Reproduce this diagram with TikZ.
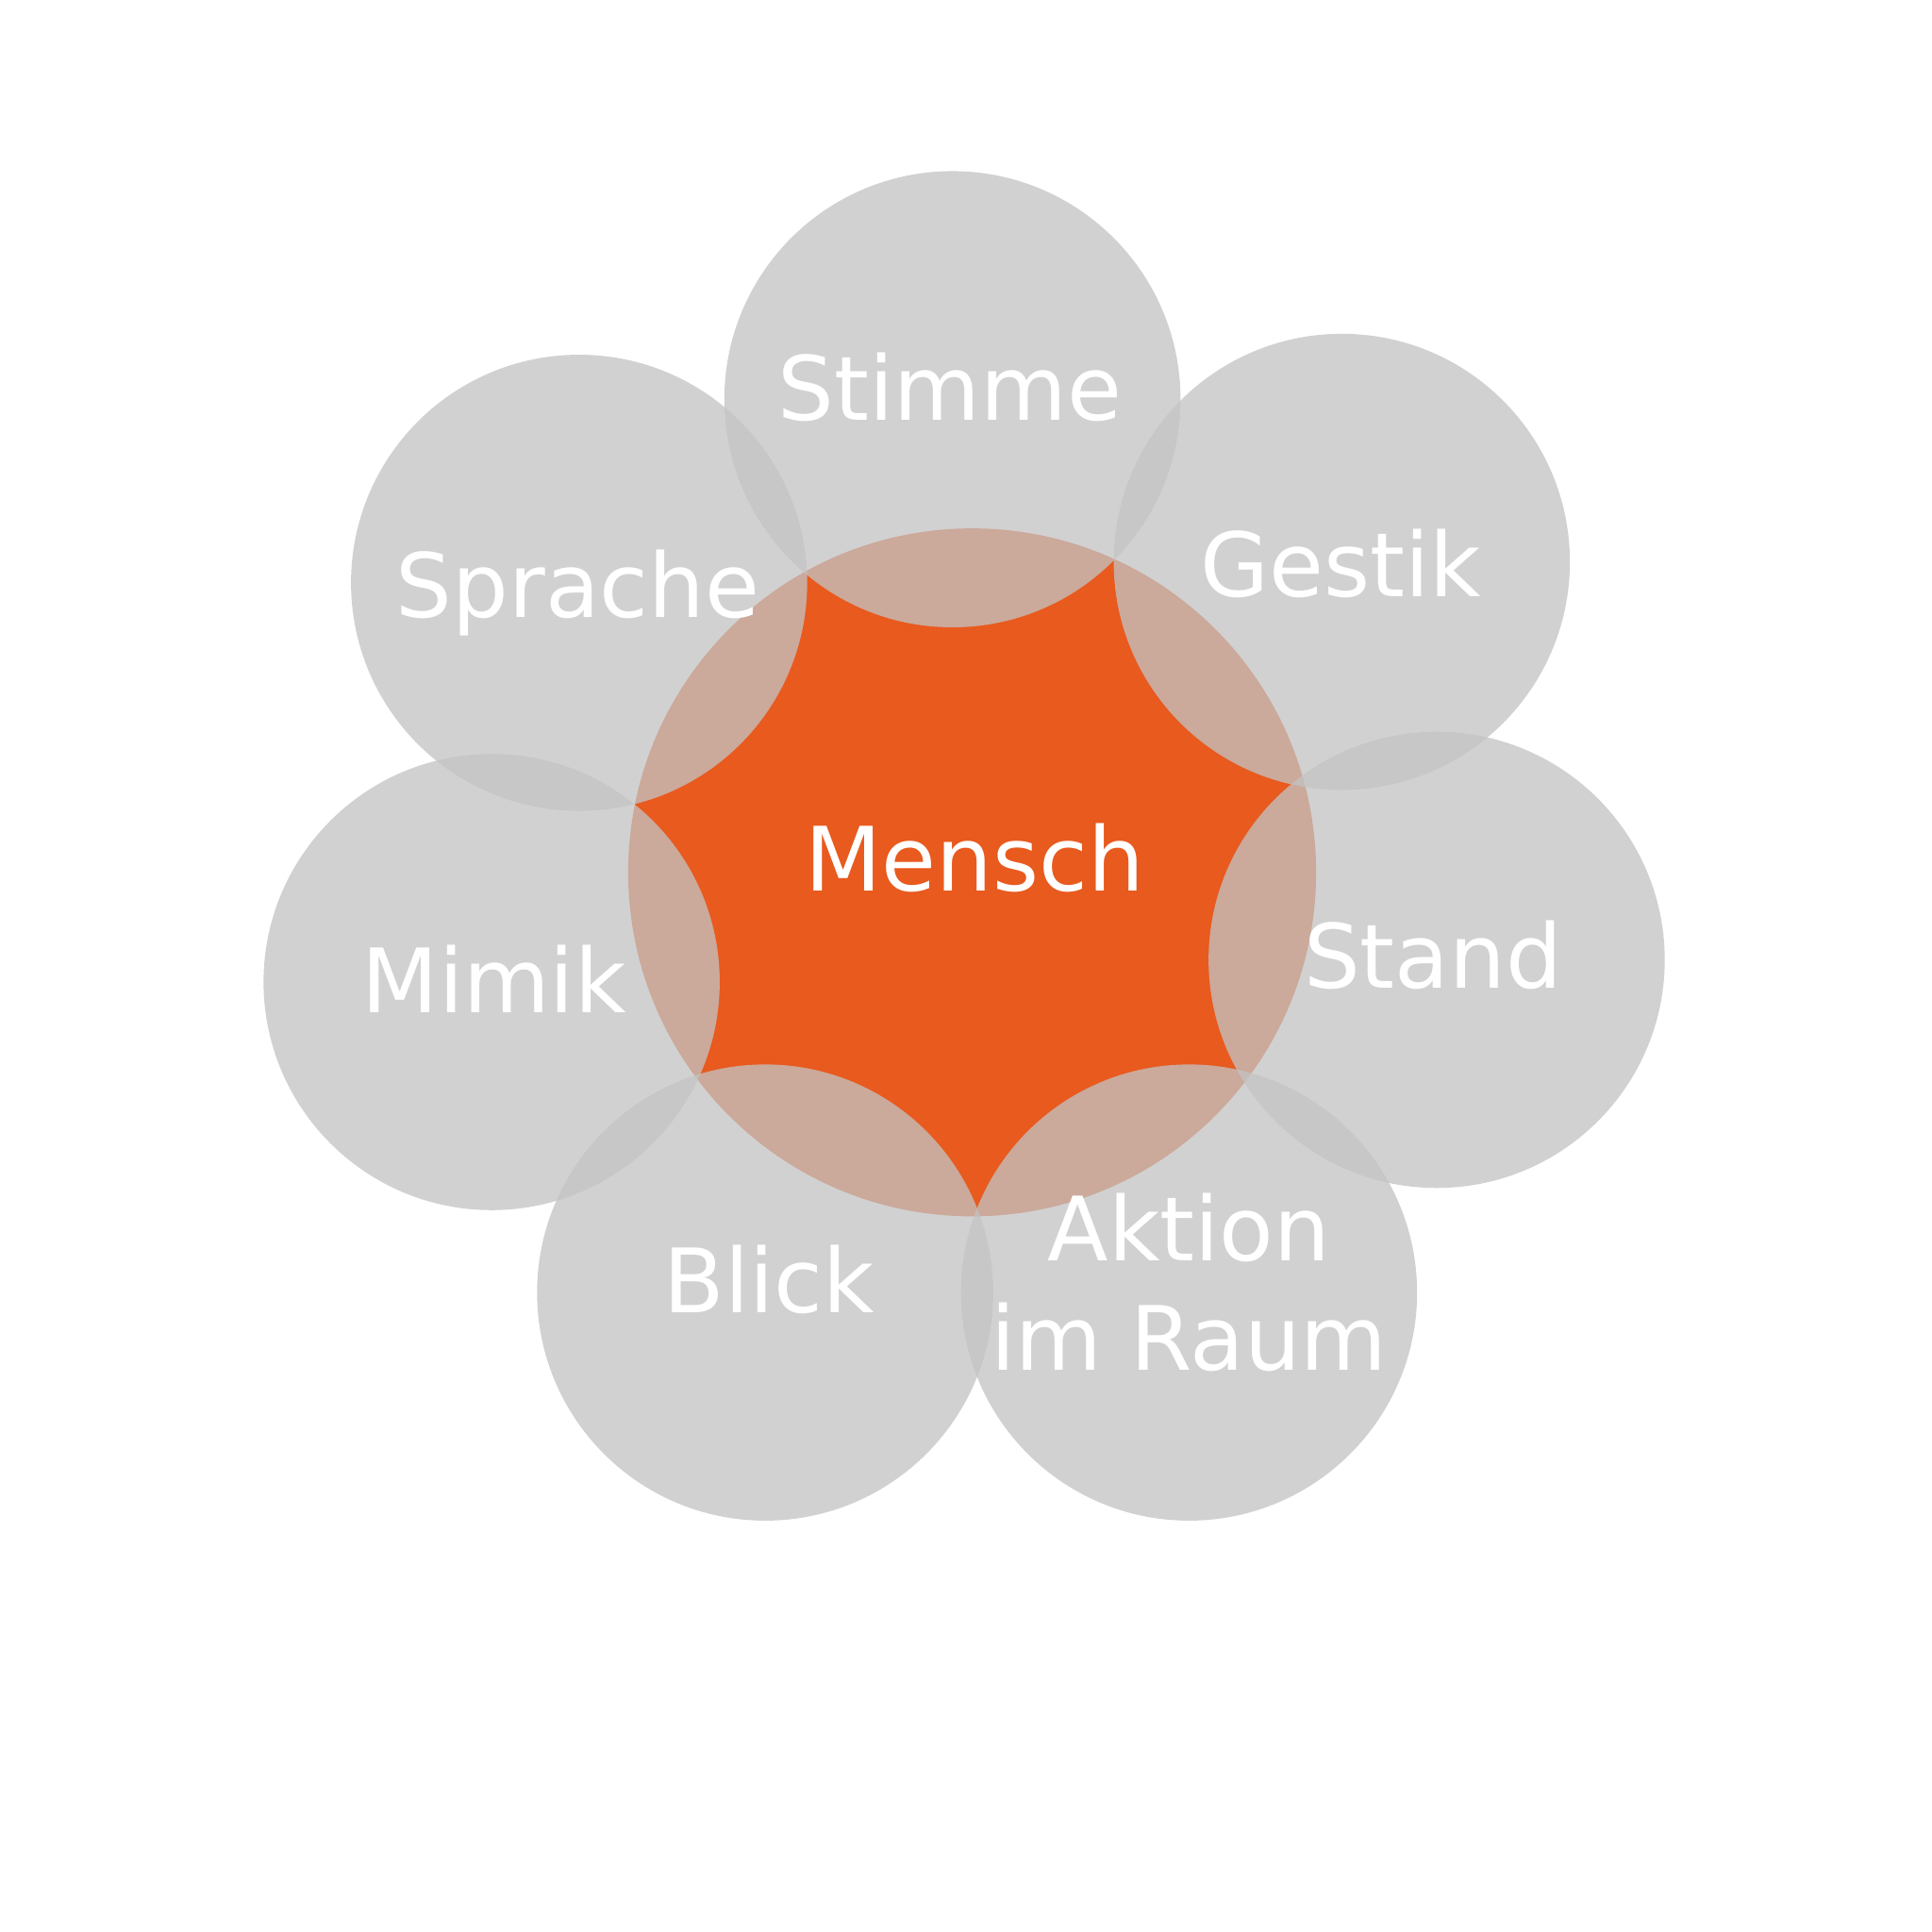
\documentclass[tikz,border=0pt]{standalone}
\usepackage{fontspec}
\setmainfont{DejaVu Sans}
\definecolor{petalgray}{RGB}{195,195,195}
\definecolor{coreorange}{RGB}{232,90,30}
\begin{document}
\begin{tikzpicture}[x=0.01cm, y=-0.01cm,
        petal/.style={fill=petalgray, fill opacity=0.76},
        word/.style={text=white, anchor=base, align=center,
                     font=\fontsize{20.5}{25.3}\selectfont}]
        \useasboundingbox (0,0) rectangle (1568,1568);
        % The core
        \fill[coreorange] (789,708) coordinate (core) circle[radius=2.79cm];

        % The petals
        \foreach \name/\x/\y in {stimme/773/324, gestik/1089/456, stand/1166/779,
                aktion/965/1049, blick/621/1049, mimik/399/797, sprache/470/473}
            \fill[petal] (\x,\y) coordinate (\name) circle[radius=1.85cm];

        % The labels
        \node[word] (Mensch) at (791,723) {Mensch};
        \node[word] (Stimme) at (771,341) {Stimme};
        \node[word] (Gestik) at (1088,484) {Gestik};
        \node[word] (Stand) at (1163,802) {Stand};
        \node[word] (Aktion) at (965,1112) {Aktion\\im Raum};
        \node[word] (Blick) at (624,1065) {Blick};
        \node[word] (Mimik) at (401,822) {Mimik};
        \node[word] (Sprache) at (469,501) {Sprache};
    \end{tikzpicture}
\end{document}
